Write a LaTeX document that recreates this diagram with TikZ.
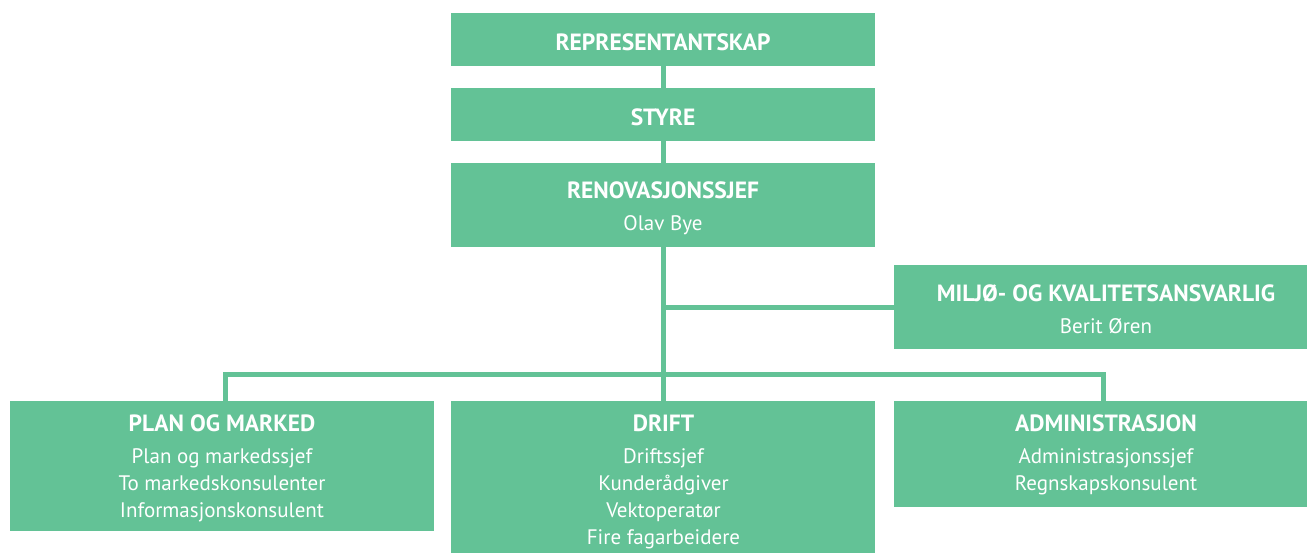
\documentclass[tikz,border=0pt]{standalone}
\usepackage{fontspec}
\setmainfont{PT Sans}
\definecolor{grn}{RGB}{99,194,150}
\newcommand{\hd}[1]{{\fontsize{23.5}{27}\selectfont\bfseries #1}}
\begin{document}
\begin{tikzpicture}[x=1pt,y=-1pt,
  box/.style={fill=grn,draw=none,inner sep=0,minimum width=424pt,anchor=north west},
  txt/.style={text=white,inner sep=0,align=center,anchor=north,font=\fontsize{21}{27}\selectfont},
  conn/.style={draw=grn,line width=5pt,line join=miter}]
\useasboundingbox (0,0) rectangle (1307,553);
\clip (0,0) rectangle (1307,553);
% boxes
\node[box,minimum height=53pt] (repr) at (451,13) {};
\node[box,minimum height=53pt] (styre) at (451,88) {};
\node[box,minimum height=84pt] (renov) at (451,163) {};
\node[box,minimum height=84pt] (miljo) at (894,265) {};
\node[box,minimum height=130pt] (plan) at (10,401) {};
\node[box,minimum height=160pt] (drift) at (451,401) {};
\node[box,minimum height=106pt] (admin) at (894,401) {};
% texts
\node[txt] (treprx) at (663,34) {\hd{REPRESENTANTSKAP}};
\node[txt] (tstyre) at (663,109) {\hd{STYRE}};
\node[txt] (trenov) at (663,182) {\hd{RENOVASJONSSJEF}\\[5pt]Olav Bye};
\node[txt] (tmiljo) at (1106,284) {\hd{MILJØ- OG KVALITETSANSVARLIG}\\[5pt]Berit Øren};
\node[txt] (tplan) at (222,414.5) {\hd{PLAN OG MARKED}\\[5pt]Plan og markedssjef\\To markedskonsulenter\\Informasjonskonsulent};
\node[txt] (tdrift) at (663.5,414.5) {\hd{DRIFT}\\[5pt]Driftssjef\\Kunderådgiver\\Vektoperatør\\Fire fagarbeidere};
\node[txt] (tadmin) at (1106,414.5) {\hd{ADMINISTRASJON}\\[5pt]Administrasjonssjef\\Regnskapskonsulent};
% connectors
\coordinate (jl) at (225,374.5);
\coordinate (jr) at (1103.5,374.5);
\draw[conn] (repr.south) -- (styre.north);
\draw[conn] (styre.south) -- (renov.north);
\draw[conn] (renov.south) -- (drift.north);
\draw[conn] (renov.south |- miljo.west) -- (miljo.west);
\draw[conn] (plan.north -| jl) -- (jl) -- (jr) -- (admin.north -| jr);
\end{tikzpicture}
\end{document}
